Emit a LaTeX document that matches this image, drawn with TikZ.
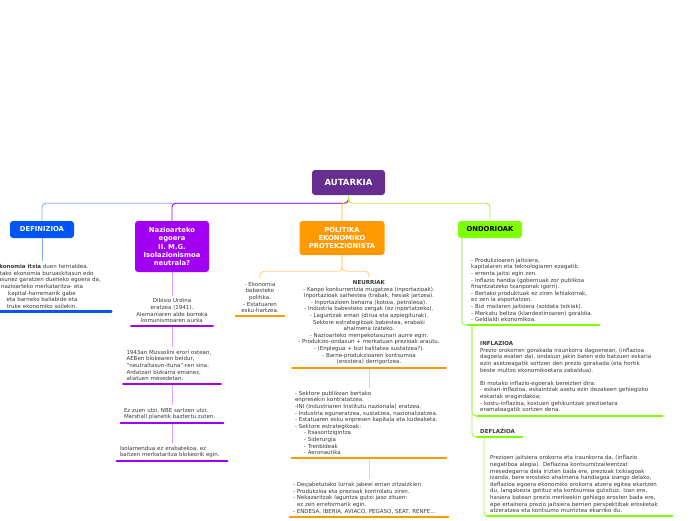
\documentclass[tikz,border=0pt]{standalone}
\usepackage{fontspec}
\setmainfont{DejaVu Sans}
\usetikzlibrary{positioning}

\definecolor{rootpurple}{HTML}{652D90}
\definecolor{defblue}{HTML}{0055F8}
\definecolor{deflink}{HTML}{85A8FF}
\definecolor{nazpurple}{HTML}{A100F2}
\definecolor{nazlink}{HTML}{DDA0FF}
\definecolor{polorange}{HTML}{FF9900}
\definecolor{pollink}{HTML}{FFCF80}
\definecolor{ondgreen}{HTML}{80FF00}
\definecolor{ondlink}{HTML}{A8EE50}
\definecolor{notegray}{HTML}{383838}

\tikzset{
  topicbox/.style={rounded corners=3pt, inner sep=0pt, align=center, text=white,
    font=\fontsize{6.8}{8.4}\selectfont\bfseries},
  notebox/.style={inner xsep=3pt, inner ysep=3pt, text=notegray,
    font=\fontsize{5.5}{6.6}\selectfont},
  link/.style={line width=0.9pt, rounded corners=4pt},
  bar/.style={line width=2.6pt, line cap=round},
}

\begin{document}
\begin{tikzpicture}[x=1pt, y=-1pt]
		%%%%% START %%%%%
		\useasboundingbox (0,0) rectangle (696,520);

		\node[topicbox, fill=rootpurple, minimum width=73pt, minimum height=25pt,
		  font=\fontsize{8.5}{10}\selectfont\bfseries] (autarkia) at (348.5,182.5) {AUTARKIA};

		\node[topicbox, fill=defblue, minimum width=64pt, minimum height=17pt] (definizioa) at (42,229.5) {DEFINIZIOA};
		\node[topicbox, fill=nazpurple, minimum width=74pt, minimum height=51pt] (nazioarteko) at (172,246.5)
		  {Nazioarteko\\egoera\\II. M.G.\\Isolazionismoa\\neutrala?};
		\node[topicbox, fill=polorange, minimum width=85pt, minimum height=34pt] (politika) at (342,238)
		  {POLITIKA\\EKONOMIKO\\PROTEKZIONISTA};
		\node[topicbox, fill=ondgreen, text=black, minimum width=64pt, minimum height=17pt] (ondorioak) at (490,229.5) {ONDORIOAK};

		% definizioa
		\node[notebox, align=center, text width=132pt, anchor=south] (d1) at (42,311.5)
		  {\textbf{Ekonomia itxia} duen herrialdea.\\Bertako ekonomia buruaskitasun edo\\askatasunez garatzen dueneko egoera da,\\nazioarteko merkataritza- eta\\kapital-harremanik gabe\\eta barneko baliabide eta\\truke ekonomiko soilekin.};

		% nazioarteko egoera
		\node[notebox, align=center, text width=75pt, anchor=south] (naz1) at (172,326)
		  {Dibisio Urdina\\eratzea (1941).\\Alemaniaren alde borroka\\komunismoaren aurka};
		\node[notebox, align=left, text width=91pt, anchor=south] (naz2) at (172,384)
		  {1943an Mussolini erori ostean,\\AEBen blokearen beldur,\\"neutraltasun-ituna"-ren sina.\\Ardatzari bizkarra emanez,\\aliatuen mesedetan.};
		\node[notebox, align=left, text width=96pt, anchor=south] (naz3) at (172,423)
		  {Ez zuen utzi, NBE sartzen utzi.\\Marshall planetik baztertu zuten.};
		\node[notebox, align=left, text width=104pt, anchor=south] (naz4) at (172,461)
		  {Isolamendua ez erabatekoa, ez\\baitzen merkataritza blokeorik egin.};

		% politika
		\node[notebox, align=center, text width=42pt, anchor=south] (pol1) at (260,316)
		  {- Ekonomia\\babesteko\\politika.\\- Estatuaren\\esku-hartzea.};
		\node[notebox, align=center, text width=147pt, anchor=south] (pol2) at (369,368)
		  {\textbf{NEURRIAK}\\- Kanpo konkurrentzia mugatzea (inportazioak).\\Inportazioak saihestea (trabak, hesiak jartzea).\\- Inportazioen beharra (kotoia, petroleoa).\\- Industria babesteko zergak (ez inportatzeko).\\- Laguntzak eman (dirua eta azpiegiturak).\\Sektore estrategikoak babestea, erabaki\\ahalmena izateko.\\- Nazioarteko menpekotasunari aurre egin.\\- Produkzio-ondasun + merkatuan prezioak arautu.\\- (Enplegua + bizi kalitatea sustatzea?).\\- Barne-produkzioaren kontsumoa\\(erostera) derrigortzea.};
		\node[notebox, align=left, text width=148pt, anchor=south] (pol3) at (369,458)
		  {- Sektore publikoan bertako\\enpresekin kontratatzea.\\-INI (Industriaren Institutu nazionala) eratzea.\\- Industria eguneratzea, sustatzea, nazionalizatzea.\\- Estatuaren esku enpresen kapitala eta kudeaketa.\\- Sektore estrategikoak:\\\hspace*{9pt}- Itsasontzigintza\\\hspace*{9pt}- Siderurgia\\\hspace*{9pt}- Trenbideak\\\hspace*{9pt}- Aeronautika};
		\node[notebox, align=left, text width=152pt, anchor=south] (pol4) at (369,517)
		  {- Desjabetutako lurrak jabeei eman zitzaizkien.\\- Produkzioa eta prezioak kontrolatu ziren.\\- Nekazaritzak laguntza gutxi jaso zituen:\\\hspace*{4pt}ez zen erreformarik egin.\\- ENDESA, IBERIA, AVIACO, PEGASO, SEAT, RENFE...};

		% ondorioak
		\node[notebox, align=left, text width=125pt, anchor=south west] (ond1) at (468,325)
		  {- Produkzioaren jaitsiera,\\kapitalaren eta teknologiaren ezagatik.\\- errenta jaitsi egin zen.\\- Inflazio handia (gobernuak zor publikoa\\finantzatzeko txanponak igorri).\\- Bertako produktuak ez ziren lehiakorrak,\\ez zen ia esportatzen.\\- Bizi mailaren jaitsiera (soldata txikiak).\\- Merkatu beltza (klandestinoaren) goraldia.\\- Geldialdi ekonomikoa.};
		\node[notebox, align=left, text width=179pt, anchor=south west] (infl) at (477,416)
		  {\textbf{INFLAZIOA}\\Prezio orokorren gorakada iraunkorra dagoenean, (inflazioa\\dagoela esaten da), ondasun jakin baten edo batzuen eskaria\\ezin asetzeagatik sortzen den prezio gorakada (eta hortik\\beste multzo ekonomikoetara zabaldua).\\[6.6pt]Bi motako inflazio-egoerak bereizten dira:\\- eskari-inflazioa, eskaintzak asetu ezin dezakeen gehiegizko\\eskariak eragindakoa;\\- kostu-inflazioa, kostuen gehikuntzak prezioetara\\eramateagatik sortzen dena.};
		\node[notebox, align=left, text width=39pt, anchor=south west] (defl) at (477,437)
		  {\textbf{DEFLAZIOA}};
		\node[notebox, align=left, text width=179pt, anchor=south west] (defltxt) at (487,516)
		  {Prezioen jaitsiera orokorra eta iraunkorra da, (inflazio\\negatiboa alegia). Deflazioa kontsumitzaileentzat\\mesedegarria dela irizten bada ere, prezioak txikiagoak\\izanda, bere erosteko ahalmena handiagoa izango delako,\\deflazioa egoera ekonomiko orokorra atzera egitea ekartzen\\du, langabezia gotituz eta kontsumoa gutxituz. Izan ere,\\hasiera batean prezio merkeekin gehiago erosten bada ere,\\epe ertainera prezio jaitsiera berrien perspektibak erosketak\\atzeratzea eta kontsumo murriztea ekarriko du.};

		% main branches
		\draw[link, deflink] (autarkia.south) -- ++(0,8) -| (definizioa.north);
		\draw[link, nazpurple] (autarkia.south) -- ++(0,8) -| (nazioarteko.north);
		\draw[link, polorange!80, rounded corners=2pt] (autarkia.south) -- ++(0,8) -| (politika.north);
		\draw[link, ondlink] (autarkia.south) -- ++(0,8) -| (ondorioak.north);

		\draw[link, deflink] (definizioa.south) -- (d1.north);

		\draw[link, nazlink] (nazioarteko.south) -- (naz1.north);
		\draw[link, nazlink] (naz1.south) -- (naz2.north);
		\draw[link, nazlink] (naz2.south) -- (naz3.north);
		\draw[link, nazlink] (naz3.south) -- (naz4.north);

		\draw[link, pollink] (politika.south) -- ++(0,16) -| (pol1.north);
		\draw[link, pollink] (politika.south) -- ++(0,16) -| (pol2.north);
		\draw[link, pollink] (pol2.south) -- (pol3.north);
		\draw[link, pollink] (pol3.south) -- (pol4.north);

		\draw[link, ondlink] ([xshift=4pt]ondorioak.south west) |- (ond1.south west);
		\draw[link, ondlink] ([xshift=4pt]ond1.south west) |- (infl.south west);
		\draw[link, ondlink] ([xshift=4pt]ond1.south west) |- (defl.south west);
		\draw[link, ondlink] ([xshift=7pt]defl.south west) |- (defltxt.south west);

		% bottom bars of the notes
		\foreach \n/\c in {d1/defblue, naz1/nazpurple, naz2/nazpurple, naz3/nazpurple, naz4/nazpurple,
		  pol1/polorange, pol2/polorange, pol3/polorange, pol4/polorange,
		  ond1/ondgreen, infl/ondgreen, defl/ondgreen, defltxt/ondgreen}
		  \draw[bar, \c] (\n.south west) -- (\n.south east);

		%%%%% END %%%%%
\end{tikzpicture}
\end{document}
